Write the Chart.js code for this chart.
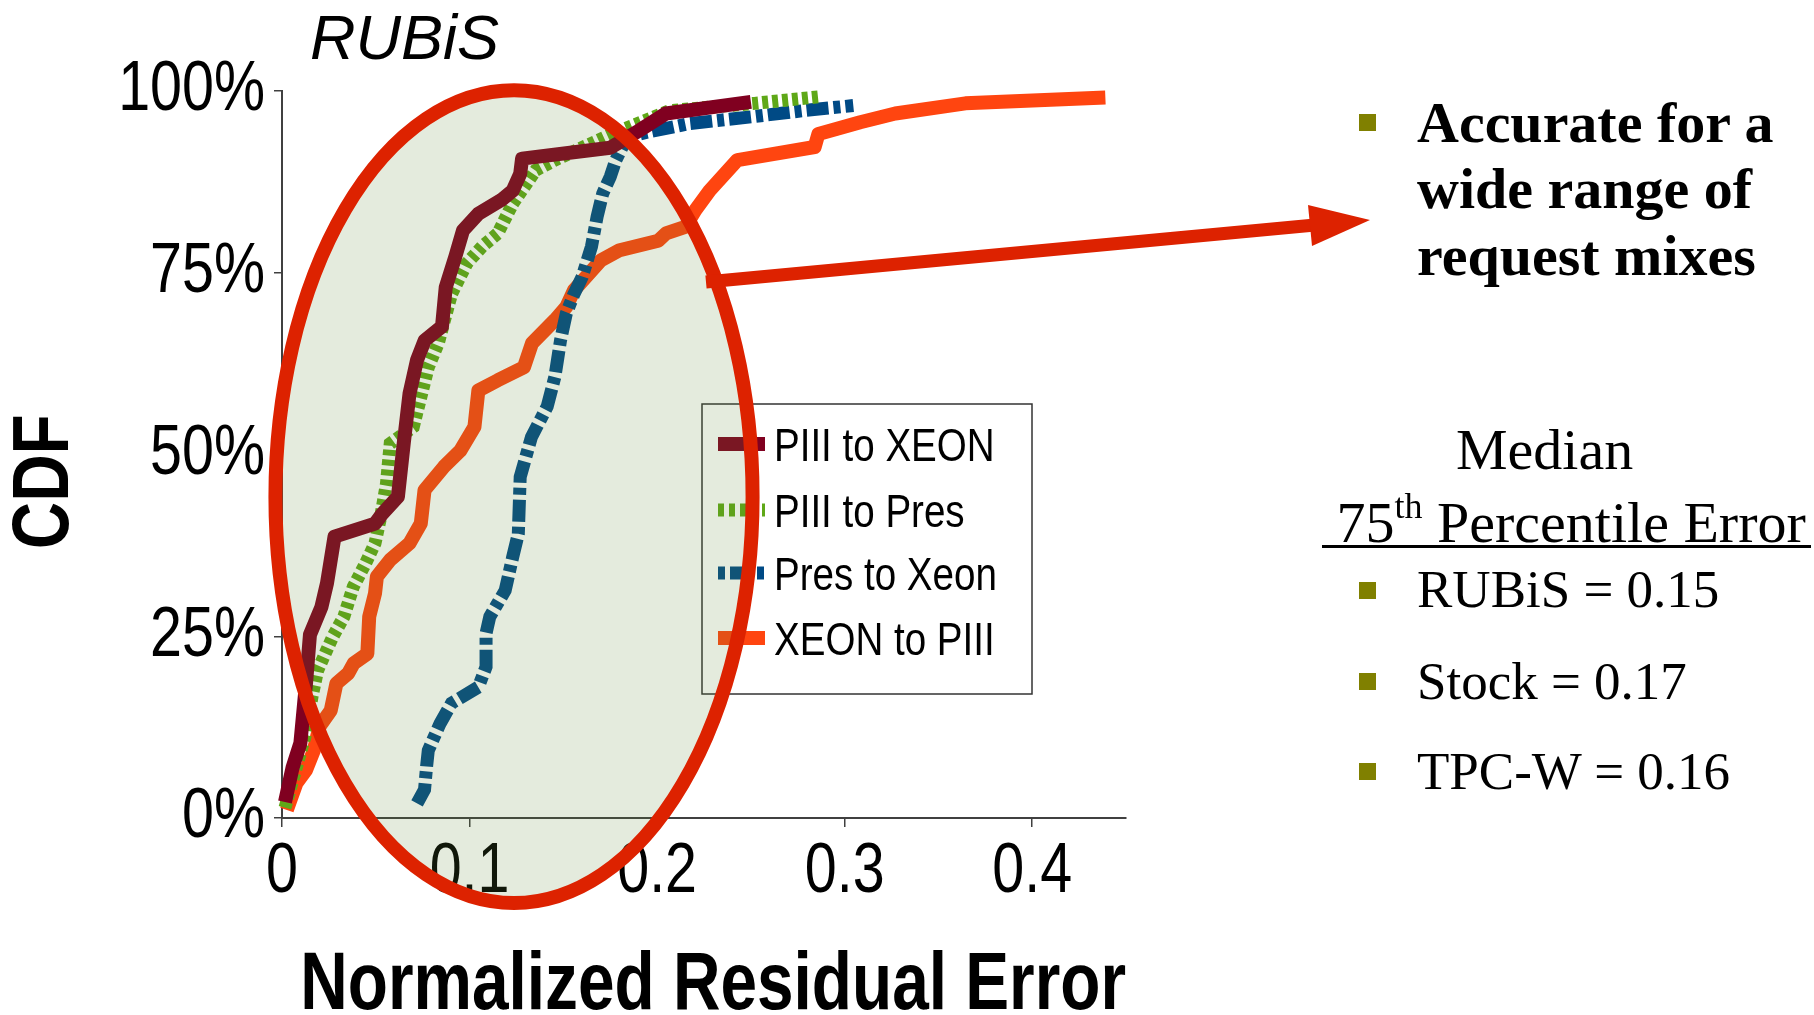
<!DOCTYPE html>
<html>
<head>
<meta charset="utf-8">
<script src="https://cdn.jsdelivr.net/npm/chart.js@4.4.0/dist/chart.umd.min.js"></script>
<style>
  html, body { margin: 0; padding: 0; background: #fff; }
  #wrap { position: relative; width: 1814px; height: 1015px; overflow: hidden; }
  #chart { position: absolute; left: 0; top: 0; }
  .t { position: absolute; white-space: nowrap; font-family: 'Liberation Serif', 'Times New Roman', serif;
       font-size: 58px; line-height: 58px; color: #000; }
  .s { font-size: 53px; line-height: 53px; }
  .b { font-weight: bold; }
  .sq { position: absolute; left: 1359px; width: 17px; height: 17px; background: #808000; }
  #rubis { position: absolute; left: 310px; top: 6px; white-space: nowrap;
           font: italic 63px/63px 'Liberation Sans', Arial, sans-serif; }
</style>
</head>
<body>
<div id="wrap">
  <canvas id="chart" width="1814" height="1015"></canvas>
  <div id="rubis">RUBiS</div>

  <div class="sq" style="top:114px"></div>
  <div class="t b" style="left:1417px; top:94px">Accurate for a</div>
  <div class="t b" style="left:1417px; top:160px">wide range of</div>
  <div class="t b" style="left:1417px; top:227px">request mixes</div>

  <div class="t" style="left:1456px; top:421px">Median</div>
  <div class="t" style="left:1322px; top:494px">&nbsp;75<span style="font-size:36px; position:relative; top:-24px">th</span> Percentile Error</div>
  <div style="position:absolute; left:1322px; top:545px; width:489px; height:3px; background:#000"></div>

  <div class="sq" style="top:582px"></div>
  <div class="t s" style="left:1417px; top:563px">RUBiS = 0.15</div>
  <div class="sq" style="top:673px"></div>
  <div class="t s" style="left:1417px; top:655px">Stock = 0.17</div>
  <div class="sq" style="top:763px"></div>
  <div class="t s" style="left:1417px; top:745px">TPC-W = 0.16</div>
</div>
<script>
const FONT = "'Liberation Sans', Arial, sans-serif";
const NARROW = 0.82; // the chart text is a narrow face

// axis ticks
const xTicks = [0, 0.1, 0.2, 0.3, 0.4];
const yTicks = [0, 25, 50, 75, 100];

const seriesNames = ["PIII to XEON", "PIII to Pres", "Pres to Xeon", "XEON to PIII"];

// PIII to XEON
const p3XeonErr = [0.0016, 0.0057, 0.0098, 0.0128, 0.0149, 0.021, 0.024, 0.028, 0.0496, 0.0536,
  0.0618, 0.0649, 0.068, 0.072, 0.0761, 0.0853, 0.0873, 0.0924, 0.0965, 0.1047,
  0.1169, 0.123, 0.127, 0.128, 0.175, 0.19, 0.2047, 0.25];
const p3XeonCdf = [2.2, 7, 10.3, 18.5, 25.2, 29, 32.3, 38.7, 40.5, 41.9,
  44.2, 51.5, 58.4, 63, 65.7, 67.6, 73, 77.2, 80.8, 83.1,
  85, 86.3, 88.6, 90.7, 92.2, 94.5, 96.9, 98.5];

// PIII to Pres
const p3PresErr = [0.0016, 0.0128, 0.016, 0.019, 0.027, 0.033, 0.038, 0.0445, 0.0496, 0.0526,
  0.0557, 0.0577, 0.07, 0.078, 0.0833, 0.0904, 0.0986, 0.1067, 0.115, 0.123,
  0.1353, 0.1455, 0.176, 0.2067, 0.252, 0.286];
const p3PresCdf = [1.4, 11.7, 16.7, 20.3, 24.9, 27.7, 31.8, 35, 37.8, 41.4,
  46, 51.5, 53.8, 62, 65.3, 72.1, 76.3, 78.6, 80.4, 84.5,
  89.1, 90.5, 94.1, 97.3, 98.3, 99.2];

// Pres to Xeon
const presXeonErr = [0.072, 0.076, 0.0771, 0.078, 0.0843, 0.0904, 0.1047, 0.1088, 0.1088, 0.1108,
  0.119, 0.123, 0.126, 0.127, 0.133, 0.1414, 0.1455, 0.1485, 0.1516, 0.1557,
  0.16, 0.165, 0.168, 0.171, 0.175, 0.178, 0.184, 0.196, 0.217, 0.252, 0.278, 0.3046];
const presXeonCdf = [2, 3.9, 7.1, 9.3, 13, 15.8, 18, 20.8, 25.4, 27.7,
  31.3, 35.9, 39.1, 46.9, 52.4, 56.6, 60.7, 65.7, 69.4, 72.1,
  74.4, 78.6, 82.7, 85.9, 88.2, 90.5, 93.7, 94.4, 95.5, 96.5, 97.3, 98];

// XEON to PIII
const xeonP3Err = [0.0026, 0.0077, 0.0128, 0.017, 0.02, 0.026, 0.029, 0.0353, 0.0383, 0.0455,
  0.0465, 0.0496, 0.0506, 0.0577, 0.068, 0.074, 0.076, 0.0863, 0.095, 0.1026,
  0.1047, 0.115, 0.129, 0.1333, 0.1455, 0.1516, 0.1557, 0.17, 0.18, 0.2006,
  0.2047, 0.215, 0.2204, 0.228, 0.2428, 0.284, 0.286, 0.3083, 0.327, 0.3644, 0.439];
const xeonP3Cdf = [1.1, 4.8, 6.6, 9.3, 12.6, 14.8, 18.5, 19.9, 21.3, 22.6,
  27.7, 30.9, 33.2, 35.5, 37.8, 40.5, 45.1, 48.3, 50.5, 53.8,
  58.8, 60.2, 62, 65.3, 68.5, 70.3, 72.6, 76.7, 78.1, 79.4,
  80.4, 81.3, 83.6, 86.3, 90.5, 92.3, 94.1, 95.7, 96.9, 98.3, 99.1];

function pts(xs, ys) {
  return xs.map((x, i) => ({ x: x, y: ys[i] }));
}

// highlight ellipse, in data units
const ellipseCenter = { x: 0.1237, y: 44.2 };
const ellipseRadius = { x: 0.1272, y: 55.9 };

const legendPlugin = {
  id: "boxLegend",
  afterDatasetsDraw(chart) {
    const ctx = chart.ctx;
    const rows = [444, 510, 573, 638];
    ctx.save();
    ctx.fillStyle = "#fff";
    ctx.fillRect(702, 404, 330, 290);
    ctx.strokeStyle = "#333";
    ctx.lineWidth = 1.5;
    ctx.strokeRect(702, 404, 330, 290);
    chart.data.datasets.forEach((ds, i) => {
      const y = rows[i];
      ctx.beginPath();
      ctx.setLineDash(ds.legendDash || []);
      ctx.lineWidth = ds.borderWidth;
      ctx.strokeStyle = ds.borderColor;
      ctx.moveTo(718, y);
      ctx.lineTo(765, y);
      ctx.stroke();
      ctx.setLineDash([]);
      ctx.fillStyle = "#000";
      ctx.font = "47px " + FONT;
      ctx.textBaseline = "middle";
      ctx.fillText(ds.label, 774, y + 4);
    });
    ctx.restore();
  }
};

const markPlugin = {
  id: "marks",
  afterDraw(chart) {
    const ctx = chart.ctx;
    const sx = chart.scales.x, sy = chart.scales.y;
    const cx = sx.getPixelForValue(ellipseCenter.x);
    const cy = sy.getPixelForValue(ellipseCenter.y);
    const rx = sx.getPixelForValue(ellipseCenter.x + ellipseRadius.x) - cx;
    const ry = cy - sy.getPixelForValue(ellipseCenter.y + ellipseRadius.y);
    ctx.save();
    ctx.beginPath();
    ctx.ellipse(cx, cy, rx, ry, 0, 0, Math.PI * 2);
    ctx.fillStyle = "rgba(93,135,51,0.17)";
    ctx.fill();
    ctx.lineWidth = 14;
    ctx.strokeStyle = "#dd2200";
    ctx.stroke();

    // arrow to the text
    ctx.beginPath();
    ctx.lineWidth = 13;
    ctx.lineCap = "butt";
    ctx.moveTo(706, 282);
    ctx.lineTo(1315, 225);
    ctx.stroke();
    ctx.beginPath();
    ctx.moveTo(1370, 220);
    ctx.lineTo(1312, 246);
    ctx.lineTo(1308, 205);
    ctx.closePath();
    ctx.fillStyle = "#dd2200";
    ctx.fill();
    ctx.restore();
  }
};

// squeeze all chart text horizontally, like an Arial Narrow face
const canvas = document.getElementById("chart");
const ctx2d = canvas.getContext("2d");
const nativeFillText = ctx2d.fillText;
ctx2d.fillText = function (text, x, y, maxWidth) {
  const w = this.measureText(text).width * NARROW;
  const mw = maxWidth === undefined ? w : Math.min(maxWidth, w);
  return nativeFillText.call(this, text, x, y, mw);
};

Chart.defaults.font.family = FONT;
Chart.defaults.color = "#000";

new Chart(ctx2d, {
  type: "line",
  data: {
    datasets: [
      { label: seriesNames[0], data: pts(p3XeonErr, p3XeonCdf), borderColor: "#800020",
        borderWidth: 14, borderJoinStyle: "round" },
      { label: seriesNames[1], data: pts(p3PresErr, p3PresCdf), borderColor: "#5fa818",
        borderWidth: 13, borderDash: [6, 4], legendDash: [6, 5] },
      { label: seriesNames[2], data: pts(presXeonErr, presXeonCdf), borderColor: "#004a85",
        borderWidth: 13, borderDash: [22, 5, 7, 5], legendDash: [7, 5, 22, 5] },
      { label: seriesNames[3], data: pts(xeonP3Err, xeonP3Cdf), borderColor: "#ff4510",
        borderWidth: 14, borderJoinStyle: "round" }
    ]
  },
  options: {
    responsive: false,
    animation: false,
    devicePixelRatio: 1,
    clip: false,
    elements: { point: { radius: 0 }, line: { tension: 0, fill: false } },
    layout: { padding: { left: 0, top: 91, right: 688, bottom: 0 } },
    plugins: { legend: { display: false }, tooltip: { enabled: false } },
    scales: {
      x: {
        type: "linear",
        min: 0,
        max: 0.45,
        afterBuildTicks: s => { s.ticks = xTicks.map(v => ({ value: v })); },
        afterFit: s => { s.height = 197; },
        ticks: {
          font: { size: 70 },
          color: "#000",
          padding: 4,
          maxRotation: 0,
          autoSkip: false,
          callback: v => (v === 0 ? "0" : v.toFixed(1))
        },
        grid: { drawOnChartArea: false, drawTicks: true, tickLength: 9, color: "#404040", lineWidth: 1.5 },
        border: { display: true, color: "#404040", width: 2 },
        title: {
          display: true,
          text: "\u00a0Normalized Residual Error",
          font: { size: 82, weight: "bold", lineHeight: 0.7 },
          color: "#000",
          padding: 0
        }
      },
      y: {
        min: 0,
        max: 100,
        afterBuildTicks: s => { s.ticks = yTicks.map(v => ({ value: v })); },
        afterFit: s => { s.width = 282; },
        ticks: { font: { size: 70 }, color: "#000", padding: 9, callback: v => v + "%" },
        grid: { drawOnChartArea: false, drawTicks: true, tickLength: 8, color: "#404040", lineWidth: 1.5 },
        border: { display: true, color: "#404040", width: 2 },
        title: {
          display: true,
          text: "CDF\u00a0\u00a0\u00a0",
          font: { size: 80, weight: "bold", lineHeight: 1 },
          color: "#000",
          padding: { top: 6 }
        }
      }
    }
  },
  plugins: [legendPlugin, markPlugin]
});
</script>
</body>
</html>
